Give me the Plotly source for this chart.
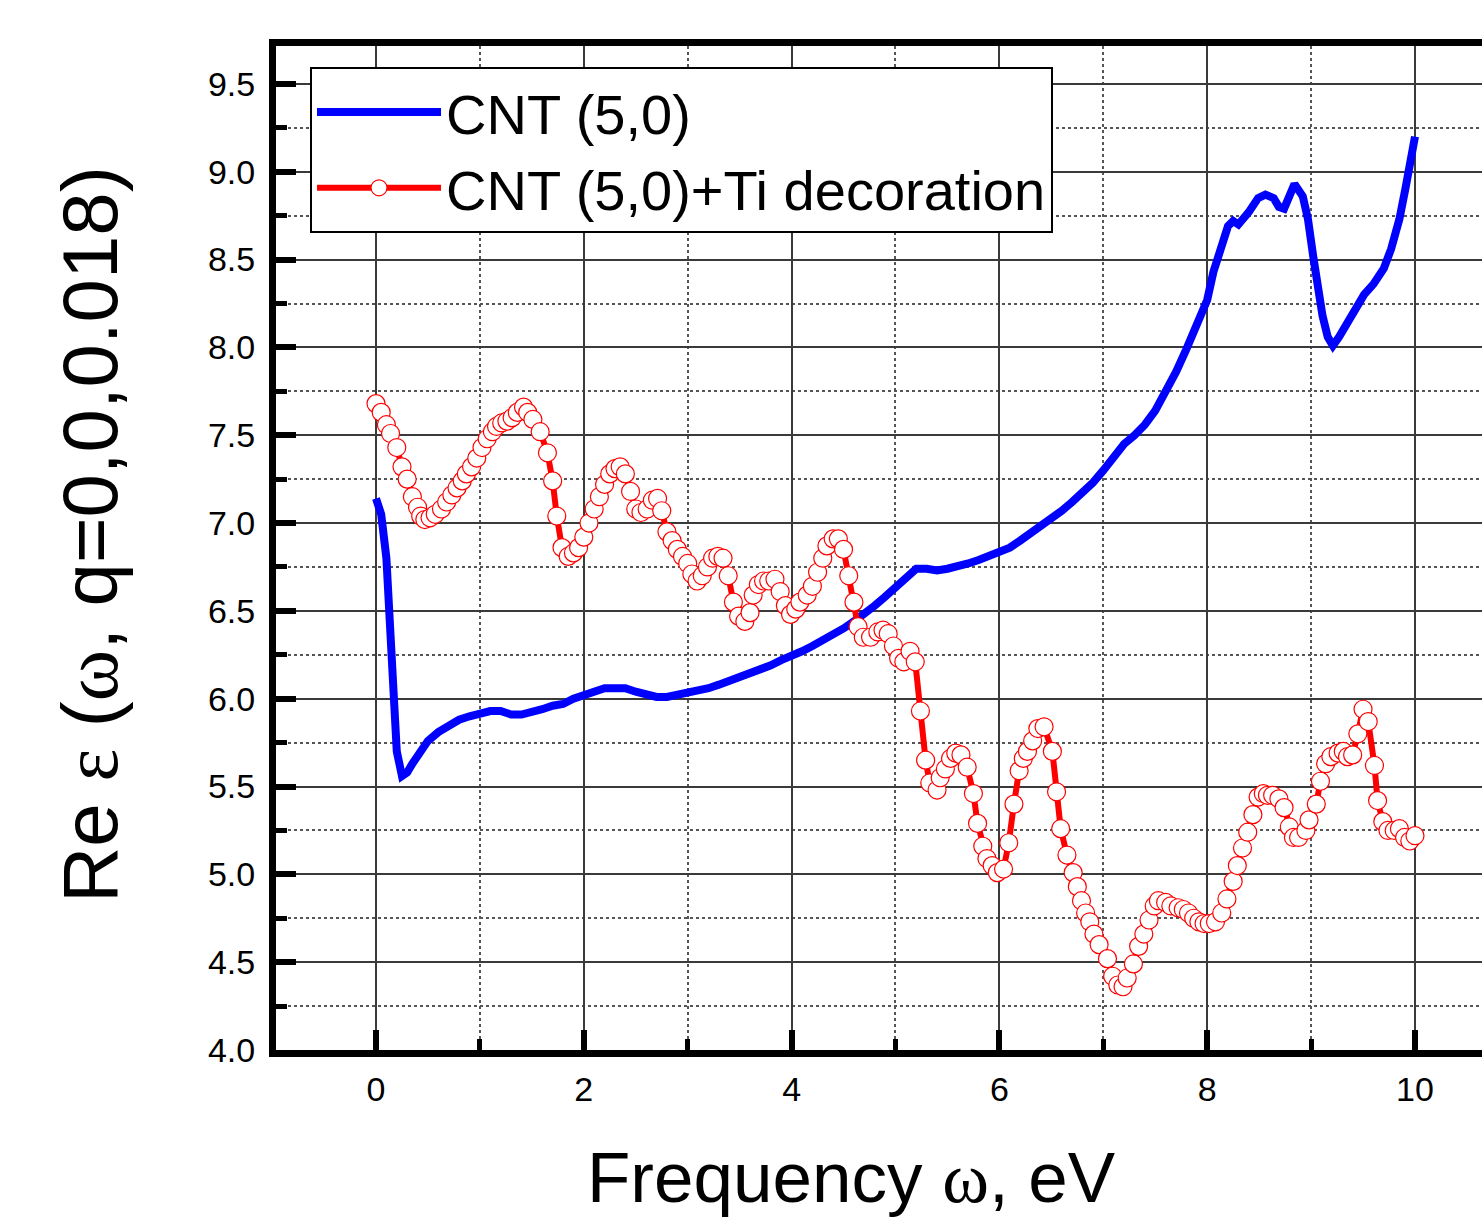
import plotly.graph_objects as go

# ---- data ----
blue_x = [0.00, 0.05, 0.10, 0.15, 0.20, 0.25, 0.30, 0.35, 0.40, 0.50, 0.60, 0.70, 0.80, 0.90,
          1.00, 1.10, 1.20, 1.30, 1.40, 1.50, 1.60, 1.70, 1.80, 1.90, 2.00, 2.10, 2.20, 2.30,
          2.40, 2.50, 2.60, 2.70, 2.80, 2.90, 3.00, 3.10, 3.20, 3.30, 3.40, 3.50, 3.60, 3.70,
          3.80, 3.90, 4.00, 4.10, 4.20, 4.30, 4.40, 4.50, 4.60, 4.70, 4.80, 4.90, 5.00, 5.10,
          5.20, 5.30, 5.40, 5.50, 5.60, 5.70, 5.80, 5.90, 6.00, 6.10, 6.20, 6.30, 6.40, 6.50,
          6.60, 6.70, 6.80, 6.90, 7.00, 7.10, 7.20, 7.30, 7.40, 7.50, 7.60, 7.70, 7.80, 7.90,
          8.00, 8.06, 8.13, 8.20, 8.25, 8.30, 8.40, 8.49, 8.56, 8.64, 8.69, 8.74, 8.79, 8.84,
          8.92, 8.97, 9.02, 9.06, 9.11, 9.16, 9.21, 9.27, 9.35, 9.43, 9.51, 9.60, 9.70, 9.77,
          9.85, 9.91, 9.96, 10.00]
blue_y = [7.14, 7.05, 6.80, 6.20, 5.70, 5.56, 5.58, 5.63, 5.68, 5.76, 5.81, 5.85, 5.88, 5.90,
          5.92, 5.93, 5.93, 5.91, 5.91, 5.92, 5.94, 5.96, 5.97, 6.00, 6.02, 6.04, 6.06, 6.06,
          6.06, 6.04, 6.02, 6.01, 6.01, 6.02, 6.03, 6.04, 6.06, 6.08, 6.10, 6.12, 6.15, 6.17,
          6.19, 6.22, 6.24, 6.27, 6.30, 6.33, 6.36, 6.40, 6.44, 6.48, 6.53, 6.58, 6.63, 6.69,
          6.74, 6.74, 6.73, 6.74, 6.75, 6.77, 6.79, 6.81, 6.83, 6.86, 6.90, 6.94, 6.98, 7.02,
          7.07, 7.12, 7.17, 7.23, 7.30, 7.37, 7.45, 7.50, 7.56, 7.64, 7.74, 7.86, 7.99, 8.12,
          8.27, 8.43, 8.55, 8.69, 8.72, 8.70, 8.77, 8.85, 8.87, 8.85, 8.80, 8.79, 8.86, 8.93,
          8.86, 8.73, 8.52, 8.35, 8.18, 8.06, 8.01, 8.06, 8.14, 8.24, 8.30, 8.36, 8.45, 8.56,
          8.73, 8.91, 9.09, 9.20]

red_x = [0.00, 0.05, 0.10, 0.14, 0.20, 0.25, 0.30, 0.35, 0.40, 0.43, 0.47, 0.52, 0.57, 0.63,
         0.68, 0.73, 0.78, 0.83, 0.87, 0.92, 0.97, 1.02, 1.07, 1.12, 1.16, 1.21, 1.26, 1.31,
         1.36, 1.42, 1.46, 1.51, 1.58, 1.65, 1.70, 1.74, 1.79, 1.85, 1.90, 1.95, 2.00, 2.05,
         2.10, 2.15, 2.20, 2.25, 2.30, 2.35, 2.40, 2.45, 2.50, 2.55, 2.61, 2.66, 2.71, 2.75,
         2.80, 2.85, 2.90, 2.95, 3.00, 3.04, 3.09, 3.14, 3.19, 3.24, 3.29, 3.34, 3.39, 3.44,
         3.49, 3.55, 3.60, 3.63, 3.68, 3.73, 3.78, 3.84, 3.89, 3.94, 3.99, 4.04, 4.08, 4.15,
         4.20, 4.25, 4.30, 4.34, 4.40, 4.45, 4.50, 4.55, 4.60, 4.64, 4.69, 4.76, 4.83, 4.88,
         4.93, 4.98, 5.03, 5.08, 5.14, 5.19, 5.24, 5.29, 5.33, 5.40, 5.43, 5.48, 5.53, 5.58,
         5.63, 5.69, 5.75, 5.79, 5.84, 5.88, 5.93, 5.98, 6.04, 6.09, 6.14, 6.19, 6.23, 6.27,
         6.32, 6.37, 6.43, 6.51, 6.55, 6.59, 6.65, 6.71, 6.75, 6.79, 6.83, 6.87, 6.91, 6.96,
         7.04, 7.09, 7.14, 7.19, 7.23, 7.29, 7.34, 7.39, 7.44, 7.49, 7.53, 7.60, 7.65, 7.72,
         7.77, 7.82, 7.87, 7.92, 7.97, 8.02, 8.08, 8.14, 8.19, 8.25, 8.29, 8.34, 8.39, 8.44,
         8.49, 8.54, 8.58, 8.63, 8.69, 8.74, 8.79, 8.83, 8.88, 8.95, 8.98, 9.05, 9.09, 9.14,
         9.19, 9.26, 9.31, 9.35, 9.40, 9.45, 9.50, 9.55, 9.61, 9.64, 9.69, 9.74, 9.80, 9.85,
         9.90, 9.95, 10.00]
red_y = [7.68, 7.63, 7.56, 7.51, 7.43, 7.32, 7.25, 7.15, 7.09, 7.04, 7.02, 7.03, 7.05, 7.08,
         7.12, 7.16, 7.20, 7.24, 7.28, 7.32, 7.37, 7.43, 7.48, 7.52, 7.55, 7.57, 7.58, 7.60,
         7.63, 7.66, 7.63, 7.59, 7.52, 7.40, 7.24, 7.04, 6.86, 6.81, 6.83, 6.86, 6.92, 7.00,
         7.08, 7.15, 7.22, 7.28, 7.31, 7.32, 7.28, 7.18, 7.08, 7.06, 7.08, 7.13, 7.14, 7.07,
         6.95, 6.90, 6.85, 6.81, 6.77, 6.71, 6.67, 6.70, 6.75, 6.80, 6.81, 6.80, 6.70, 6.55,
         6.47, 6.44, 6.49, 6.59, 6.65, 6.67, 6.67, 6.68, 6.61, 6.53, 6.48, 6.51, 6.55, 6.59,
         6.64, 6.72, 6.80, 6.87, 6.91, 6.91, 6.85, 6.70, 6.55, 6.41, 6.35, 6.35, 6.38, 6.39,
         6.37, 6.30, 6.23, 6.21, 6.27, 6.21, 5.93, 5.65, 5.52, 5.48, 5.55, 5.60, 5.66, 5.69,
         5.68, 5.61, 5.46, 5.29, 5.16, 5.09, 5.05, 5.01, 5.03, 5.18, 5.40, 5.59, 5.66, 5.70,
         5.76, 5.83, 5.84, 5.70, 5.47, 5.26, 5.11, 5.01, 4.93, 4.85, 4.78, 4.73, 4.66, 4.60,
         4.52, 4.42, 4.37, 4.36, 4.41, 4.49, 4.59, 4.66, 4.74, 4.82, 4.85, 4.84, 4.82, 4.81,
         4.80, 4.78, 4.75, 4.73, 4.72, 4.72, 4.73, 4.78, 4.86, 4.96, 5.05, 5.15, 5.24, 5.34,
         5.44, 5.46, 5.45, 5.45, 5.43, 5.38, 5.27, 5.21, 5.21, 5.25, 5.31, 5.40, 5.53, 5.63,
         5.67, 5.69, 5.70, 5.67, 5.68, 5.80, 5.94, 5.87, 5.62, 5.42, 5.30, 5.25, 5.25, 5.26,
         5.21, 5.19, 5.22]

series_names = ["CNT (5,0)", "CNT (5,0)+Ti decoration"]
x_tick_vals = [0, 2, 4, 6, 8, 10]
y_tick_vals = [4.0, 4.5, 5.0, 5.5, 6.0, 6.5, 7.0, 7.5, 8.0, 8.5, 9.0, 9.5]

FONT = "Arial, 'Liberation Sans', sans-serif"
SERIF = "'Liberation Serif', 'DejaVu Serif', serif"

fig = go.Figure()
fig.add_trace(go.Scatter(
    x=blue_x, y=blue_y, name=series_names[0], mode="lines",
    line=dict(color="#0000FF", width=8),
))
fig.add_trace(go.Scatter(
    x=red_x, y=red_y, name=series_names[1], mode="lines+markers",
    line=dict(color="#FF0000", width=6),
    marker=dict(symbol="circle", size=18, color="white",
                line=dict(color="#FF0000", width=1.2)),
))

axis_common = dict(
    showline=True, linecolor="black", linewidth=7,
    ticks="inside", ticklen=20, tickwidth=6, tickcolor="black",
    tickfont=dict(family=FONT, size=34, color="black"),
    showgrid=True, gridcolor="#3a3a3a", gridwidth=1.5,
    zeroline=False,
)

fig.update_xaxes(
    range=[-0.9625, 10.645], tickmode="array", tickvals=x_tick_vals,
    mirror=True, ticklabelstandoff=3,
    minor=dict(dtick=1, tick0=0, ticks="inside", ticklen=11, tickwidth=5,
               tickcolor="black", showgrid=True, gridcolor="#555555",
               griddash="dot", gridwidth=1.5),
    **axis_common,
)
fig.update_yaxes(
    range=[4.0, 9.716], tickmode="array", tickvals=y_tick_vals, tickformat=".1f",
    ticklabelstandoff=7,
    minor=dict(dtick=0.25, tick0=0, ticks="inside", ticklen=11, tickwidth=5,
               tickcolor="black", showgrid=True, gridcolor="#555555",
               griddash="dot", gridwidth=1.5),
    **axis_common,
)

fig.add_annotation(
    xref="paper", yref="paper", x=-0.1542, y=0.513, xanchor="center", yanchor="middle",
    text=f'Re <span style="font-family:{SERIF}">ε</span> (<span style="font-family:{SERIF}">ω</span>, q=0,0,0.018)',
    textangle=-90, showarrow=False,
    font=dict(family=FONT, size=78, color="black"),
)
fig.add_annotation(
    xref="paper", yref="paper", x=0.4768, y=-0.1683, xanchor="center", yanchor="bottom",
    text=f'Frequency <span style="font-family:{SERIF}">ω</span>, eV',
    showarrow=False,
    font=dict(family=FONT, size=71, color="black"),
)

fig.update_layout(
    width=1482, height=1219,
    margin=dict(l=276, r=0, t=46, b=169, pad=0),
    paper_bgcolor="white", plot_bgcolor="white",
    showlegend=True,
    legend=dict(
        x=0.0282, y=0.979, xanchor="left", yanchor="top",
        bgcolor="white", bordercolor="black", borderwidth=2,
        font=dict(family=FONT, size=56, color="black"),
        itemwidth=124, tracegroupgap=0,
    ),
)

fig.write_html("out.html")
